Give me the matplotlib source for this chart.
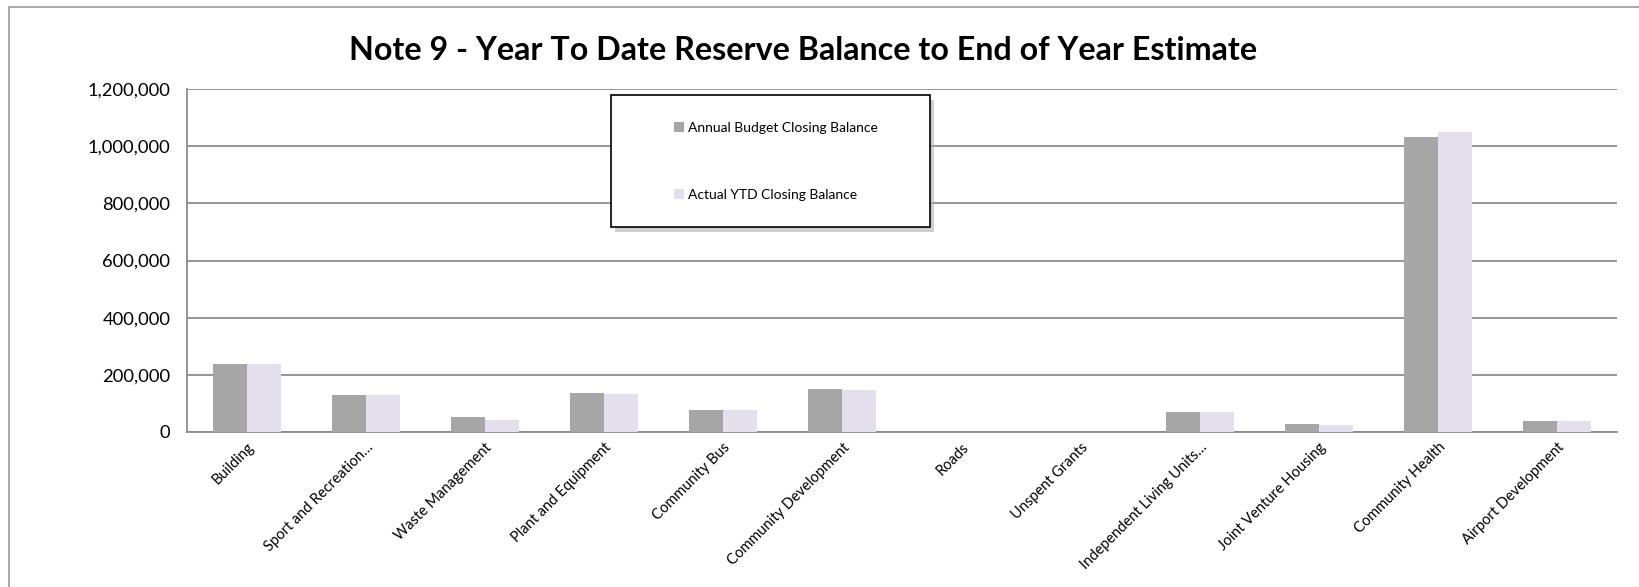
import matplotlib
matplotlib.use("Agg")
import matplotlib.pyplot as plt
import matplotlib.transforms as mtransforms
from matplotlib.patches import Patch, Rectangle
from matplotlib.ticker import FuncFormatter
import numpy as np

plt.rcParams["font.family"] = ["Lato", "DejaVu Sans"]

# data
categories = [
    "Building", "Sport and Recreation…", "Waste Management", "Plant and Equipment",
    "Community Bus", "Community Development", "Roads", "Unspent Grants",
    "Independent Living Units…", "Joint Venture Housing", "Community Health",
    "Airport Development",
]
budget = [238000, 130000, 52000, 137000, 78000, 150000, 0, 0, 69000, 29000, 1032000, 40000]
actual = [237000, 130000, 42000, 132000, 76000, 147000, 0, 0, 69000, 23000, 1048000, 39000]
series_names = ["Annual Budget Closing Balance", "Actual YTD Closing Balance"]
y_ticks = [0, 200000, 400000, 600000, 800000, 1000000, 1200000]

BUDGET_COLOR = "#a6a6a6"
ACTUAL_COLOR = "#e4dfec"
GRID_COLOR = "#8c8c8c"

W, H = 1639, 587
fig = plt.figure(figsize=(W / 100, H / 100), dpi=100)


def px(x0, y0, x1, y1):
    # pixel box (top-left origin) -> figure fraction rect
    return [x0 / W, 1 - y1 / H, (x1 - x0) / W, (y1 - y0) / H]


# outer chart border
fig.patches.append(Rectangle((9 / W, -0.05), 1.2, 1.05 - 7 / H, transform=fig.transFigure,
                             fill=False, edgecolor="#9a9a9a", lw=1.2))

ax = fig.add_axes(px(187, 89, 1617, 432))
x = np.arange(len(categories))
bw = 1 / 3.5
ax.bar(x - bw / 2, budget, width=bw, color=BUDGET_COLOR, zorder=3)
ax.bar(x + bw / 2, actual, width=bw, color=ACTUAL_COLOR, zorder=3)

ax.set_xlim(-0.5, len(categories) - 0.5)
ax.set_ylim(0, 1200000)
ax.set_yticks(y_ticks)
ax.yaxis.set_major_formatter(FuncFormatter(lambda v, _: f"{v:,.0f}"))
ax.tick_params(axis="y", length=0, pad=12, labelsize=13.2)
ax.yaxis.grid(True, color=GRID_COLOR, lw=1.3, zorder=0)
ax.set_axisbelow(True)

ax.set_xticks(x)
ax.set_xticklabels(categories, rotation=45, ha="right", va="top",
                   rotation_mode="anchor", fontsize=10.5)
shift = mtransforms.ScaledTranslation(8 / 100, -4 / 100, fig.dpi_scale_trans)
for lbl in ax.get_xticklabels():
    lbl.set_transform(lbl.get_transform() + shift)
ax.tick_params(axis="x", length=0, pad=6)

for side in ("top", "right"):
    ax.spines[side].set_visible(False)
for side in ("left", "bottom"):
    ax.spines[side].set_color(GRID_COLOR)
    ax.spines[side].set_linewidth(1.3)

fig.text(803 / W, 1 - 51 / H, "Note 9 - Year To Date Reserve Balance to End of Year Estimate",
         ha="center", va="center", fontsize=23.2, fontweight="bold")

# legend box with shadow
fig.patches.append(Rectangle((615 / W, 1 - 232 / H), 319 / W, 132 / H, transform=fig.transFigure,
                             facecolor="#b0b0b0", edgecolor="none", alpha=0.6, zorder=4))
fig.patches.append(Rectangle((611 / W, 1 - 227 / H), 319 / W, 132 / H, transform=fig.transFigure,
                             facecolor="white", edgecolor="black", lw=1.2, zorder=5))
handles = [Patch(facecolor=BUDGET_COLOR), Patch(facecolor=ACTUAL_COLOR)]
leg = fig.legend(handles, series_names, loc="upper left",
                 bbox_to_anchor=(674 / W, 1 - 122 / H), frameon=False,
                 fontsize=10, handlelength=0.7, handleheight=0.7, handletextpad=0.3,
                 labelspacing=3.95, borderpad=0, borderaxespad=0)
leg.set_zorder(6)

fig.savefig("out.png", dpi=100)
